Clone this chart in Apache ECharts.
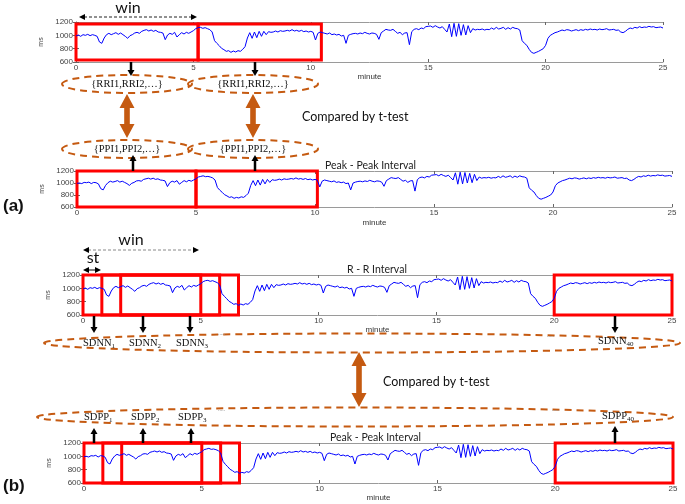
<!DOCTYPE html>
<html><head><meta charset="utf-8">
<script src="https://cdn.jsdelivr.net/npm/echarts@6/dist/echarts.min.js"></script>
<style>html,body{margin:0;padding:0;background:#fff}#c{width:685px;height:504px}</style>
</head><body><div id="c"></div>
<script>
// sampling step of the traces (minutes)
const sampleStepMin = 0.1;
// R-R interval trace (ms), one value every 0.1 minute from 0 to 25
const rrMs = [
  990,1005,985,1010,1000,1015,995,1010,1000,985,
  900,880,960,1010,1030,1010,1025,1040,1015,1035,
  1010,985,955,995,1010,1035,1045,1030,1060,1075,
  1085,1065,1080,1060,1075,1050,1045,1035,935,1005,
  1030,1015,1045,975,1010,1040,1020,1045,1030,1050,
  1070,1100,1115,1120,1105,1115,1100,1085,1050,920,
  880,845,805,785,760,770,745,765,750,770,
  760,790,830,960,1040,955,1050,965,1060,985,
  1060,1010,1055,1045,1050,1065,1050,1070,1060,1065,
  1075,1065,1085,1065,1075,1060,1075,1055,1065,1050,
  1060,1045,930,1030,1050,1040,1030,1020,1035,1010,
  1020,1005,1015,990,1000,880,1000,1015,1025,1030,
  1020,1035,1025,1045,1030,1020,1035,1030,1015,940,
  1040,1065,1090,1080,1075,1090,1060,1030,1045,1010,
  1035,1040,860,1055,1090,1100,1085,1110,1100,1130,
  1135,1140,1120,1145,1125,1110,1130,1090,1050,1170,
  980,1180,985,1175,1000,1160,1005,1145,1040,1100,
  1080,1090,1085,1095,1080,1090,1085,1110,1090,1120,
  1095,1105,1120,1090,1115,1095,1120,1105,1100,1080,
  920,880,850,790,745,730,745,760,780,800,
  850,955,1000,1020,1040,1050,1065,1080,1070,1085,
  1080,1065,1075,1085,1070,1085,1075,1090,1080,1095,
  1085,1090,1080,1095,1085,1090,1100,1080,1085,1090,
  1075,1080,1050,1040,1060,1090,1110,1100,1120,1110,
  1130,1115,1125,1120,1135,1125,1130,1115,1120,1125,
  1110
];
// Peak-Peak interval trace (ms): visually almost identical to the R-R trace in the figure
const ppMs = [
  995,1000,990,1010,1005,1015,990,1010,1005,985,
  905,885,960,1005,1030,1015,1025,1040,1015,1030,
  1010,990,960,995,1010,1035,1040,1030,1060,1070,
  1080,1065,1080,1060,1070,1050,1045,1035,940,1005,
  1030,1015,1040,980,1010,1040,1020,1045,1030,1050,
  1070,1100,1110,1120,1105,1110,1100,1085,1050,925,
  880,845,805,785,760,770,745,760,750,770,
  760,790,830,960,1040,955,1050,965,1060,985,
  1060,1010,1055,1045,1050,1065,1050,1070,1060,1065,
  1075,1065,1085,1065,1075,1060,1075,1055,1065,1050,
  1060,1045,935,1030,1050,1040,1030,1020,1035,1010,
  1020,1005,1015,990,1000,885,1000,1015,1025,1030,
  1020,1035,1025,1045,1030,1020,1035,1030,1015,945,
  1040,1065,1090,1080,1075,1090,1060,1030,1045,1010,
  1035,1040,865,1055,1090,1100,1085,1110,1100,1130,
  1135,1140,1120,1145,1125,1110,1130,1090,1050,1170,
  980,1180,985,1175,1000,1160,1005,1145,1040,1100,
  1080,1090,1085,1095,1080,1090,1085,1110,1090,1120,
  1095,1105,1120,1090,1115,1095,1120,1105,1100,1080,
  920,880,850,790,745,730,745,760,780,800,
  850,955,1000,1020,1040,1050,1065,1080,1070,1085,
  1080,1065,1075,1085,1070,1085,1075,1090,1080,1095,
  1085,1090,1080,1095,1085,1090,1100,1080,1085,1090,
  1075,1080,1050,1040,1060,1090,1110,1100,1120,1110,
  1130,1115,1125,1120,1135,1125,1130,1115,1120,1125,
  1110
];
const xTicks = [0,5,10,15,20,25];
const yTicks = [600,800,1000,1200];
// analysis windows (minutes) highlighted by red boxes
const windowsA1 = [[0,5.2],[5.2,10.45]];
const windowsA2 = [[0,5],[5,10.1]];
const windowsB  = [[0,5],[0.8,5.8],[1.6,6.6],[20,25]];

const toPairs = arr => arr.map((v,i) => [Math.round(i*sampleStepMin*10)/10, v]);

const panels = [
  {grid:{left:76, top:22, width:587, height:40}, data:rrMs, win:windowsA1, boxY:[630,1170], nameGap:8, msGap:29},
  {grid:{left:77, top:171, width:595, height:36}, data:ppMs, win:windowsA2, boxY:[600,1200], nameGap:12, msGap:30},
  {grid:{left:83, top:275, width:589, height:40}, data:rrMs, win:windowsB, boxY:[600,1200], nameGap:9, msGap:28},
  {grid:{left:84, top:443, width:589, height:40}, data:ppMs, win:windowsB, boxY:[600,1200], nameGap:10, msGap:28}
];

const AX = '#9a9a9a', LAB = '#444', FONT = 'Liberation Sans, Arial, sans-serif';
const grid = [], xAxis = [], yAxis = [], series = [];
panels.forEach((p, i) => {
  grid.push(Object.assign({containLabel:false}, p.grid));
  const tick = {show:true, inside:true, length:3, lineStyle:{color:'#666', width:1}};
  xAxis.push({type:'value', gridIndex:i, min:xTicks[0], max:xTicks[xTicks.length-1], interval:5,
    axisLine:{lineStyle:{color:AX}}, axisTick:tick, splitLine:{show:false},
    axisLabel:{fontSize:8, color:LAB, margin:2, fontFamily:FONT, formatter: v => xTicks.includes(v) ? String(v) : ''},
    name:'minute', nameLocation:'middle', nameGap:p.nameGap, nameTextStyle:{fontSize:8, color:'#333', fontFamily:FONT, verticalAlign:'top'}});
  xAxis.push({type:'value', gridIndex:i, position:'top', min:0, max:25, interval:5,
    axisLine:{lineStyle:{color:AX}}, axisTick:tick, axisLabel:{show:false}, splitLine:{show:false}});
  yAxis.push({type:'value', gridIndex:i, min:yTicks[0], max:yTicks[yTicks.length-1], interval:200,
    axisLine:{show:true, lineStyle:{color:AX}}, axisTick:tick, splitLine:{show:false},
    axisLabel:{fontSize:8, color:LAB, margin:3, fontFamily:FONT, formatter: v => yTicks.includes(v) ? String(v) : ''},
    name:'ms', nameLocation:'middle', nameGap:p.msGap, nameRotate:90, nameTextStyle:{fontSize:7, color:'#444', fontFamily:FONT}});
  yAxis.push({type:'value', gridIndex:i, position:'right', min:600, max:1200, interval:200,
    axisLine:{show:true, lineStyle:{color:AX}}, axisTick:tick, axisLabel:{show:false}, splitLine:{show:false}});
  series.push({type:'line', xAxisIndex:2*i, yAxisIndex:2*i, data:toPairs(p.data), showSymbol:false, symbol:'none',
    lineStyle:{color:'#0000ff', width:1}, silent:true, z:3,
    markArea:{silent:true, label:{show:false},
      itemStyle:{color:'rgba(0,0,0,0)', borderColor:'#ff0000', borderWidth:3},
      data:p.win.map(w => [{xAxis:w[0], yAxis:p.boxY[1]}, {xAxis:w[1], yAxis:p.boxY[0]}])}});
});

// ---------- annotation drawing helpers ----------
const ORANGE = '#C55A11';
const G = [];
function blackArrow(x, y1, y2) { // from y1 to tip y2
  const dir = y2 > y1 ? 1 : -1, hl = 6, hw = 3.5;
  G.push({type:'line', shape:{x1:x, y1:y1, x2:x, y2:y2 - dir*hl}, style:{stroke:'#000', lineWidth:2.5}, z:10});
  G.push({type:'polygon', shape:{points:[[x-hw, y2-dir*hl],[x+hw, y2-dir*hl],[x, y2]]}, style:{fill:'#000'}, z:10});
}
function hArrow(x1, x2, y, dashed, color) {
  G.push({type:'line', shape:{x1:x1+5, y1:y, x2:x2-5, y2:y}, style:{stroke:color, lineWidth:1, lineDash: dashed ? [3,2] : null}, z:10});
  G.push({type:'polygon', shape:{points:[[x1,y],[x1+6,y-3],[x1+6,y+3]]}, style:{fill:'#000'}, z:10});
  G.push({type:'polygon', shape:{points:[[x2,y],[x2-6,y-3],[x2-6,y+3]]}, style:{fill:'#000'}, z:10});
}
function orangeDouble(x, yt, yb) {
  const hw = 7.5, sw = 2.8, hl = 14;
  G.push({type:'polygon', shape:{points:[[x,yt],[x+hw,yt+hl],[x+sw,yt+hl],[x+sw,yb-hl],[x+hw,yb-hl],[x,yb],[x-hw,yb-hl],[x-sw,yb-hl],[x-sw,yt+hl],[x-hw,yt+hl]]},
    style:{fill:ORANGE}, z:10});
}
function dashEllipse(cx, cy, rx, ry) {
  G.push({type:'ellipse', shape:{cx:cx, cy:cy, rx:rx, ry:ry}, style:{fill:null, stroke:ORANGE, lineWidth:2, lineDash:[7,5]}, z:9});
}
function txt(x, y, s, size, opt) {
  G.push({type:'text', x:x, y:y, z:11, style:Object.assign({text:s, fontSize:size, fill:'#111', fontFamily:'Lato, "Open Sans", sans-serif',
    textAlign:'left', textVerticalAlign:'middle'}, opt || {})});
}
function subTxt(x, y, base, sub) {
  G.push({type:'text', x:x, y:y, z:11, style:{text:'{a|'+base+'}{s|'+sub+'}', textAlign:'left', textVerticalAlign:'middle',
    rich:{a:{fontSize:10.5, lineHeight:12, verticalAlign:'top', fontFamily:'"Liberation Serif", serif', fill:'#111'},
          s:{fontSize:7, lineHeight:7, padding:[6,0,0,0], verticalAlign:'bottom', fontFamily:'"Liberation Serif", serif', fill:'#111'}}}});
}

// ---------- panel (a) ----------
txt(128, 8, 'win', 16, {textAlign:'center'});
hArrow(79, 197, 17, true, '#222');
blackArrow(131, 62, 76);
blackArrow(255, 62, 76);
dashEllipse(127, 84, 65, 9);
dashEllipse(253, 84, 65, 9);
dashEllipse(127, 149, 65, 9);
dashEllipse(253, 149, 65, 9);
txt(127, 84, '{RRI1,RRI2,…}', 10.5, {textAlign:'center', fontFamily:'"Liberation Serif", serif'});
txt(253, 84, '{RRI1,RRI2,…}', 10.5, {textAlign:'center', fontFamily:'"Liberation Serif", serif'});
txt(127, 149, '{PPI1,PPI2,…}', 10.5, {textAlign:'center', fontFamily:'"Liberation Serif", serif'});
txt(253, 149, '{PPI1,PPI2,…}', 10.5, {textAlign:'center', fontFamily:'"Liberation Serif", serif'});
orangeDouble(127, 94, 138);
orangeDouble(253, 94, 138);
txt(302, 117, 'Compared by t-test', 12.5);
blackArrow(133, 171, 155);
blackArrow(255, 171, 155);
txt(325, 166, 'Peak - Peak Interval', 10.5, {fill:'#222'});
txt(3, 206, '(a)', 17, {fontWeight:'bold', fontFamily:'"Liberation Sans", Arial, sans-serif'});

// ---------- panel (b) ----------
txt(131, 240, 'win', 16, {textAlign:'center'});
hArrow(83, 199, 250, true, '#888');
txt(93, 258, 'st', 16, {textAlign:'center'});
hArrow(83, 101, 270, false, '#000');
txt(347, 270, 'R - R Interval', 10.5, {fill:'#222'});
[94, 143, 190, 615].forEach(x => blackArrow(x, 316, 333));
dashEllipse(362, 343, 318, 9.5);
subTxt(83, 344, 'SDNN', '1');
subTxt(129, 344, 'SDNN', '2');
subTxt(176, 344, 'SDNN', '3');
subTxt(598, 342, 'SDNN', '40');
txt(218, 333, '.....', 6, {fill:'#999'});
txt(547, 335, '.....', 6, {fill:'#999'});
orangeDouble(359, 352, 407);
txt(383, 382, 'Compared by t-test', 12.5);
dashEllipse(355, 417, 318, 9.5);
subTxt(84, 418, 'SDPP', '1');
subTxt(131, 418, 'SDPP', '2');
subTxt(178, 418, 'SDPP', '3');
subTxt(602, 417, 'SDPP', '40');
txt(218, 409, '.....', 6, {fill:'#999'});
txt(552, 409, '.....', 6, {fill:'#999'});
[94, 143, 191].forEach(x => blackArrow(x, 443, 428));
blackArrow(615, 443, 426);
txt(330, 438, 'Peak - Peak Interval', 10.5, {fill:'#222'});
txt(3, 486, '(b)', 17, {fontWeight:'bold', fontFamily:'"Liberation Sans", Arial, sans-serif'});

const chart = echarts.init(document.getElementById('c'), null, {renderer:'canvas'});
chart.setOption({animation:false, backgroundColor:'#fff', grid, xAxis, yAxis, series, graphic:{elements:G}});
</script></body></html>
